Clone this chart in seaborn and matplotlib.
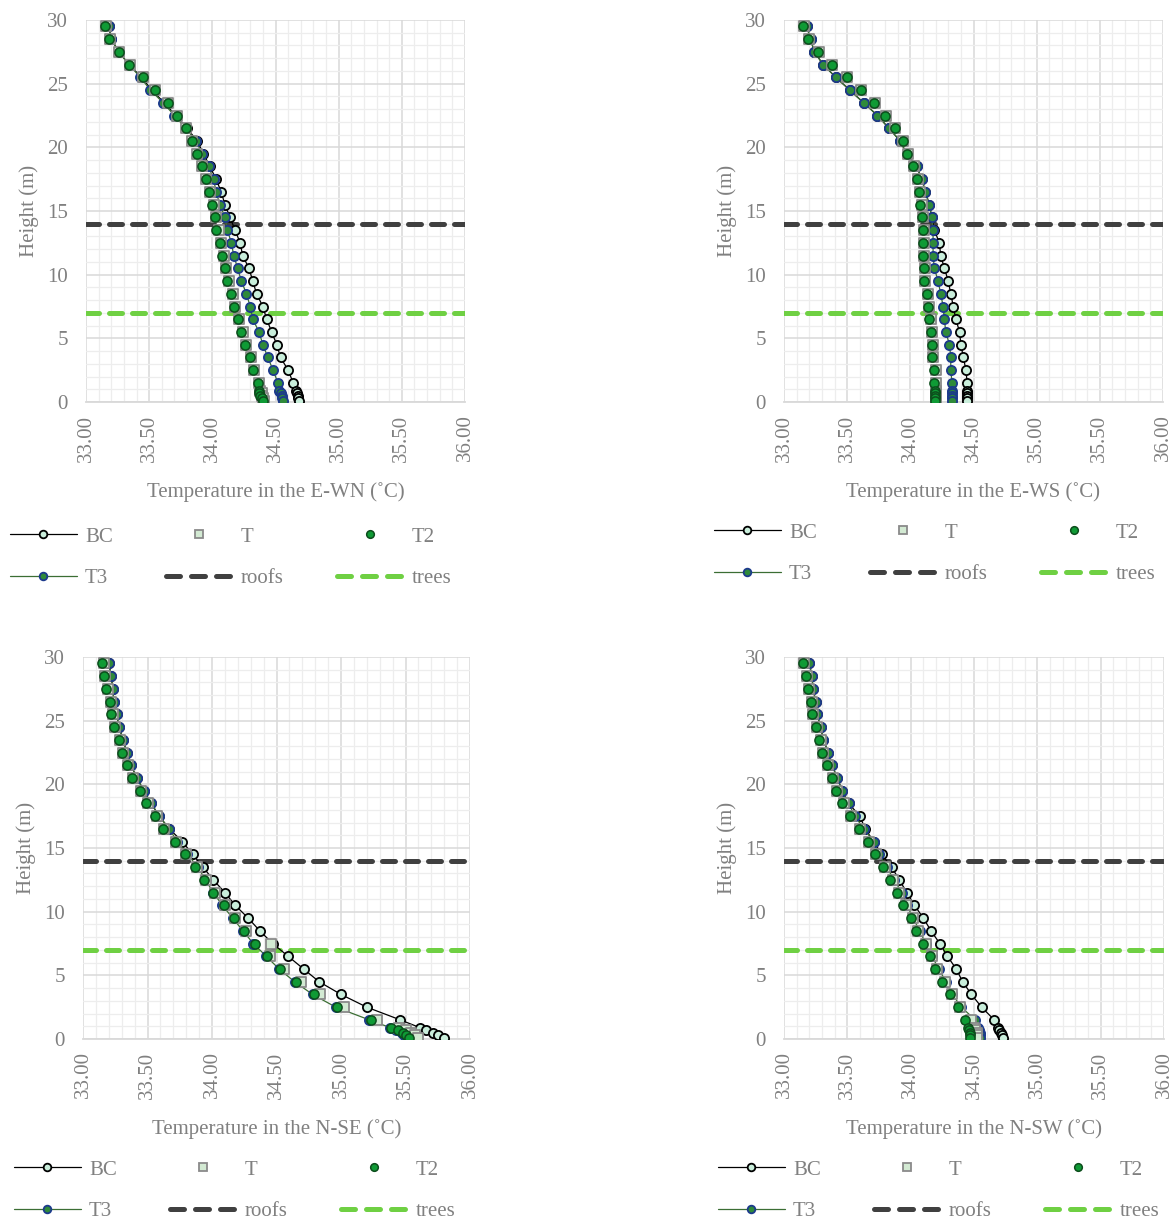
import matplotlib
matplotlib.use("Agg")
import matplotlib.pyplot as plt
from matplotlib.lines import Line2D
from matplotlib.ticker import MultipleLocator, FormatStrFormatter
import seaborn as sns

# --- Data: heights (m) and air temperatures (°C) for four street canyons ---
heights = [29.5, 28.5, 27.5, 26.5, 25.5, 24.5, 23.5, 22.5, 21.5, 20.5,
           19.5, 18.5, 17.5, 16.5, 15.5, 14.5, 13.5, 12.5, 11.5, 10.5,
           9.5, 8.5, 7.5, 6.5, 5.5, 4.5, 3.5, 2.5, 1.5,
           0.9, 0.7, 0.5, 0.3, 0.1]

series_names = ["BC", "T", "T2", "T3"]
roof_height = 14
tree_height = 7

# E-WN
bc_ewn = [33.18, 33.20, 33.26, 33.34, 33.44, 33.52, 33.62, 33.71, 33.80, 33.88,
          33.93, 33.98, 34.03, 34.07, 34.10, 34.14, 34.18, 34.22, 34.24, 34.29,
          34.32, 34.35, 34.40, 34.43, 34.47, 34.51, 34.54, 34.60, 34.64,
          34.665, 34.67, 34.675, 34.68, 34.685]
t_ewn = [33.16, 33.19, 33.26, 33.35, 33.45, 33.55, 33.65, 33.72, 33.79, 33.84,
         33.88, 33.92, 33.95, 33.98, 34.01, 34.03, 34.05, 34.07, 34.09, 34.11,
         34.13, 34.16, 34.18, 34.21, 34.24, 34.27, 34.31, 34.33, 34.37,
         34.38, 34.39, 34.39, 34.40, 34.41]
t2_ewn = [33.15, 33.18, 33.26, 33.34, 33.45, 33.55, 33.65, 33.72, 33.79, 33.84,
          33.88, 33.92, 33.95, 33.97, 34.00, 34.02, 34.03, 34.06, 34.08, 34.10,
          34.12, 34.15, 34.17, 34.20, 34.23, 34.26, 34.30, 34.32, 34.36,
          34.37, 34.37, 34.38, 34.39, 34.40]
t3_ewn = [33.18, 33.20, 33.26, 33.34, 33.43, 33.51, 33.61, 33.70, 33.79, 33.87,
          33.92, 33.97, 34.01, 34.03, 34.06, 34.10, 34.12, 34.15, 34.17, 34.20,
          34.23, 34.27, 34.30, 34.32, 34.37, 34.40, 34.44, 34.48, 34.52,
          34.53, 34.54, 34.55, 34.55, 34.56]

# E-WS
bc_ews = [33.18, 33.21, 33.24, 33.31, 33.41, 33.52, 33.63, 33.74, 33.83, 33.92,
          33.97, 34.05, 34.09, 34.12, 34.15, 34.17, 34.19, 34.23, 34.24, 34.27,
          34.30, 34.32, 34.34, 34.36, 34.39, 34.40, 34.42, 34.44, 34.45,
          34.45, 34.45, 34.45, 34.45, 34.45]
t_ews = [33.16, 33.20, 33.28, 33.38, 33.50, 33.61, 33.72, 33.81, 33.88, 33.94,
         33.98, 34.03, 34.06, 34.08, 34.09, 34.10, 34.11, 34.11, 34.11, 34.12,
         34.12, 34.14, 34.15, 34.16, 34.17, 34.18, 34.18, 34.20, 34.20,
         34.205, 34.205, 34.205, 34.205, 34.205]
t2_ews = [33.15, 33.19, 33.27, 33.38, 33.50, 33.61, 33.71, 33.80, 33.88, 33.94,
          33.97, 34.02, 34.05, 34.07, 34.08, 34.09, 34.10, 34.10, 34.10, 34.11,
          34.11, 34.13, 34.14, 34.15, 34.16, 34.17, 34.17, 34.19, 34.19,
          34.195, 34.195, 34.195, 34.195, 34.195]
t3_ews = [33.18, 33.21, 33.24, 33.31, 33.41, 33.52, 33.63, 33.74, 33.83, 33.92,
          33.97, 34.05, 34.09, 34.12, 34.15, 34.17, 34.18, 34.18, 34.18, 34.19,
          34.22, 34.24, 34.26, 34.27, 34.28, 34.31, 34.32, 34.32, 34.33,
          34.33, 34.33, 34.33, 34.33, 34.33]

# N-SE
bc_nse = [33.20, 33.22, 33.23, 33.24, 33.26, 33.28, 33.31, 33.34, 33.37, 33.42,
          33.47, 33.53, 33.59, 33.67, 33.77, 33.85, 33.93, 34.01, 34.10, 34.18,
          34.28, 34.37, 34.47, 34.59, 34.71, 34.83, 35.00, 35.20, 35.46,
          35.61, 35.66, 35.71, 35.75, 35.80]
t_nse = [33.16, 33.17, 33.19, 33.22, 33.23, 33.25, 33.29, 33.31, 33.35, 33.39,
         33.45, 33.50, 33.57, 33.63, 33.72, 33.80, 33.88, 33.95, 34.02, 34.10,
         34.18, 34.26, 34.46, 34.45, 34.56, 34.69, 34.84, 35.02, 35.28,
         35.45, 35.50, 35.54, 35.57, 35.60]
t2_nse = [33.15, 33.16, 33.18, 33.21, 33.22, 33.24, 33.28, 33.30, 33.34, 33.38,
          33.44, 33.49, 33.56, 33.62, 33.71, 33.79, 33.87, 33.94, 34.01, 34.09,
          34.17, 34.25, 34.33, 34.43, 34.53, 34.65, 34.79, 34.97, 35.23,
          35.39, 35.44, 35.48, 35.50, 35.53]
t3_nse = [33.20, 33.22, 33.23, 33.24, 33.26, 33.28, 33.31, 33.34, 33.37, 33.42,
          33.47, 33.53, 33.59, 33.67, 33.73, 33.81, 33.89, 33.95, 34.01, 34.08,
          34.16, 34.24, 34.32, 34.42, 34.52, 34.64, 34.78, 34.96, 35.22,
          35.38, 35.43, 35.47, 35.49, 35.52]

# N-SW
bc_nsw = [33.20, 33.22, 33.23, 33.25, 33.26, 33.29, 33.31, 33.35, 33.38, 33.42,
          33.46, 33.51, 33.60, 33.64, 33.71, 33.77, 33.85, 33.91, 33.97, 34.03,
          34.10, 34.16, 34.23, 34.29, 34.36, 34.41, 34.48, 34.56, 34.66,
          34.69, 34.70, 34.71, 34.72, 34.73]
t_nsw = [33.16, 33.18, 33.20, 33.22, 33.23, 33.26, 33.29, 33.31, 33.35, 33.39,
         33.42, 33.47, 33.53, 33.60, 33.67, 33.73, 33.80, 33.86, 33.91, 33.96,
         34.02, 34.06, 34.12, 34.17, 34.21, 34.27, 34.33, 34.39, 34.48,
         34.50, 34.51, 34.52, 34.52, 34.52]
t2_nsw = [33.15, 33.17, 33.19, 33.21, 33.22, 33.25, 33.28, 33.30, 33.34, 33.38,
          33.41, 33.46, 33.52, 33.59, 33.66, 33.72, 33.78, 33.84, 33.89, 33.94,
          34.00, 34.04, 34.10, 34.15, 34.19, 34.25, 34.31, 34.37, 34.43,
          34.455, 34.46, 34.465, 34.465, 34.47]
t3_nsw = [33.20, 33.22, 33.23, 33.25, 33.26, 33.29, 33.31, 33.35, 33.38, 33.42,
          33.46, 33.51, 33.56, 33.63, 33.71, 33.75, 33.81, 33.87, 33.93, 33.97,
          34.02, 34.07, 34.12, 34.17, 34.22, 34.28, 34.33, 34.40, 34.51,
          34.53, 34.54, 34.545, 34.55, 34.55]

# --- Style ---
sns.set_theme(style="white")
plt.rcParams["font.family"] = ["Liberation Serif", "DejaVu Serif"]

TXT = "#808080"
FS = 15
BC_FACE, BC_EDGE = "#c9eedb", "black"
T_FACE, T_EDGE = "#d3ead3", "#8a8a8a"
T2_FACE, T2_EDGE = "#0f9a35", "#0c4d1c"
T3_FACE, T3_EDGE, T3_LINE = "#2f8a3a", "#1c3a8c", "#3b6e34"
ROOF_C, TREE_C = "#404040", "#6fd043"
DASH = (0, (2.6, 2.0))
DASH_LEG = (0, (2.8, 2.2))
MS = 6.6

fig = plt.figure(figsize=(11.75, 12.2), dpi=100)
W, H = 1175, 1220

# (xlabel, data, axes rect in px [left, top, right, bottom], legend anchor px)
panels = [
    ("Temperature in the E-WN (˚C)", (bc_ewn, t_ewn, t2_ewn, t3_ewn),
     (86, 20, 465, 402), (10, 527)),
    ("Temperature in the E-WS (˚C)", (bc_ews, t_ews, t2_ews, t3_ews),
     (784, 20, 1163, 402), (714, 523)),
    ("Temperature in the N-SE (˚C)", (bc_nse, t_nse, t2_nse, t3_nse),
     (83, 657, 470, 1039), (14, 1160)),
    ("Temperature in the N-SW (˚C)", (bc_nsw, t_nsw, t2_nsw, t3_nsw),
     (784, 657, 1164, 1039), (718, 1160)),
]

for xlabel, (bc, t, t2, t3), (l, top, r, b), (lx, ly) in panels:
    ax = fig.add_axes([l / W, 1 - b / H, (r - l) / W, (b - top) / H])

    # grid
    ax.set_xlim(33, 36)
    ax.set_ylim(0, 30)
    ax.xaxis.set_major_locator(MultipleLocator(0.5))
    ax.xaxis.set_minor_locator(MultipleLocator(0.1))
    ax.yaxis.set_major_locator(MultipleLocator(5))
    ax.yaxis.set_minor_locator(MultipleLocator(1))
    ax.xaxis.set_major_formatter(FormatStrFormatter("%.2f"))
    ax.grid(which="major", color="#d9d9d9", linewidth=1.1)
    ax.grid(which="minor", color="#ededed", linewidth=0.9)
    ax.set_axisbelow(True)
    for side in ["top", "right", "left"]:
        ax.spines[side].set_visible(False)
    ax.spines["bottom"].set_color("#d9d9d9")
    ax.spines["bottom"].set_linewidth(1.3)

    # reference heights
    ax.axhline(roof_height, color=ROOF_C, lw=3.6, ls=DASH,
               dash_capstyle="round", zorder=2)
    ax.axhline(tree_height, color=TREE_C, lw=3.6, ls=DASH,
               dash_capstyle="round", zorder=2)

    # profiles
    sns.lineplot(x=bc, y=heights, sort=False, estimator=None, ax=ax,
                 color="black", lw=0.9, marker="o", markersize=MS,
                 markerfacecolor=BC_FACE, markeredgecolor=BC_EDGE,
                 markeredgewidth=1.3, zorder=3)
    sns.lineplot(x=t3, y=heights, sort=False, estimator=None, ax=ax,
                 color=T3_LINE, lw=0.9, marker="o", markersize=MS,
                 markerfacecolor=T3_FACE, markeredgecolor=T3_EDGE,
                 markeredgewidth=1.3, zorder=4)
    sns.scatterplot(x=t, y=heights, ax=ax, marker="s", s=MS ** 2,
                    color=T_FACE, edgecolor=T_EDGE, linewidth=1.3, zorder=5)
    sns.scatterplot(x=t2, y=heights, ax=ax, marker="o", s=MS ** 2,
                    color=T2_FACE, edgecolor=T2_EDGE, linewidth=1.1, zorder=6)

    ax.tick_params(axis="x", which="major", direction="out", length=4,
                   width=1.1, color="#d9d9d9", labelcolor=TXT, labelsize=FS,
                   labelrotation=90, pad=5)
    ax.tick_params(axis="x", which="minor", length=0)
    ax.tick_params(axis="y", which="both", length=0, labelcolor=TXT,
                   labelsize=FS, pad=13)
    ax.set_xlabel(xlabel, color=TXT, fontsize=FS, labelpad=15)
    ax.set_ylabel("Height (m)", color=TXT, fontsize=FS, labelpad=6)

    handles = [
        Line2D([], [], color="black", lw=0.9, marker="o", markersize=5.5,
               markerfacecolor=BC_FACE, markeredgecolor=BC_EDGE, markeredgewidth=1.3),
        Line2D([], [], color=T3_LINE, lw=0.9, marker="o", markersize=5.5,
               markerfacecolor=T3_FACE, markeredgecolor=T3_EDGE, markeredgewidth=1.3),
        Line2D([], [], ls="none", marker="s", markersize=5.5,
               markerfacecolor=T_FACE, markeredgecolor=T_EDGE, markeredgewidth=1.3),
        Line2D([], [], color=ROOF_C, lw=3.6, ls=DASH_LEG, dash_capstyle="round"),
        Line2D([], [], ls="none", marker="o", markersize=5.5,
               markerfacecolor=T2_FACE, markeredgecolor=T2_EDGE, markeredgewidth=1.1),
        Line2D([], [], color=TREE_C, lw=3.6, ls=DASH_LEG, dash_capstyle="round"),
    ]
    labels = ["BC", "T3", "T", "roofs", "T2", "trees"]
    leg = ax.legend(handles, labels, ncol=3, loc="upper left",
                    bbox_to_anchor=(lx / W, 1 - ly / H),
                    bbox_transform=fig.transFigure, frameon=False,
                    fontsize=FS, handlelength=3.2, handletextpad=0.4,
                    columnspacing=2.55, labelspacing=1.05, borderpad=0,
                    borderaxespad=0)
    for txt in leg.get_texts():
        txt.set_color(TXT)

fig.savefig("out.png", dpi=100)
